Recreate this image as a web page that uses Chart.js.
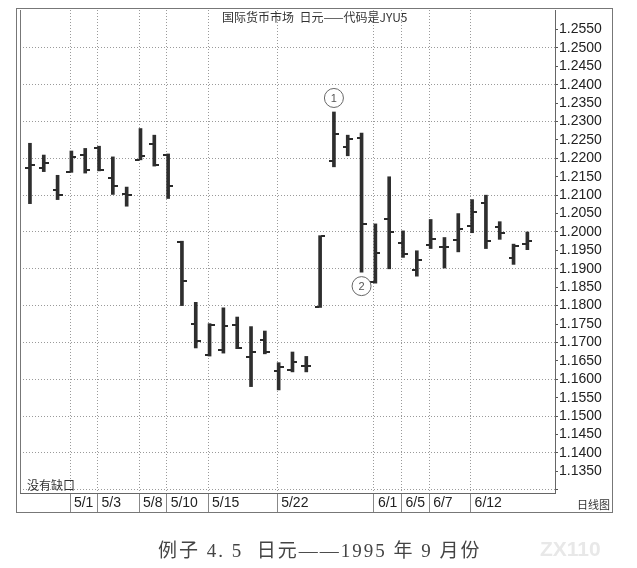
<!DOCTYPE html>
<html>
<head>
<meta charset="utf-8">
<script src="https://cdn.jsdelivr.net/npm/chart.js@4.4.1/dist/chart.umd.min.js"></script>
<style>
  html, body { margin: 0; padding: 0; background: #fff; }
  #wrap { position: relative; width: 637px; height: 568px; }
  #caption { position: absolute; left: 158px; top: 535px; font-family: "Liberation Serif", "Noto Sans CJK SC", serif; font-size: 19px; letter-spacing: 2px; color: #444; white-space: pre; }
  #mark { position: absolute; left: 540px; top: 537px; font-family: "Liberation Sans", sans-serif; font-size: 21px; color: #e8e8e8; font-weight: bold; }
</style>
</head>
<body>
<div id="wrap">
  <canvas id="JYU5_Chart"></canvas>
  <div id="caption">例子 4. 5  日元——1995 年 9 月份</div>
  <div id="mark">ZX110</div>
</div>
<script>
// daily bars, 4/26 .. 6/16 (index = trading day)
const openVals  = [1.2174, 1.2174, 1.2115, 1.2164, 1.2209, 1.2228, 1.2146, 1.2102, 1.2196, 1.2239,
                   1.2209, 1.1973, 1.1749, 1.1665, 1.1680, 1.1747, 1.1660, 1.1707, 1.1623, 1.1624,
                   1.1635, 1.1797, 1.2193, 1.2232, 1.2255, 1.1863, 1.2036, 1.1969, 1.1898, 1.1964,
                   1.1960, 1.1977, 1.2015, 1.2079, 1.2014, 1.1928, 1.1967];
const highVals  = [1.2241, 1.2209, 1.2154, 1.2220, 1.2227, 1.2233, 1.2204, 1.2122, 1.2281, 1.2263,
                   1.2212, 1.1975, 1.1809, 1.1751, 1.1794, 1.1769, 1.1743, 1.1731, 1.1645, 1.1674,
                   1.1662, 1.1990, 1.2326, 1.2263, 1.2269, 1.2022, 1.2150, 1.2003, 1.1949, 1.2034,
                   1.1985, 1.2050, 1.2088, 1.2100, 1.2028, 1.1967, 1.2000];
const lowVals   = [1.2077, 1.2164, 1.2088, 1.2162, 1.2160, 1.2166, 1.2102, 1.2070, 1.2196, 1.2179,
                   1.2091, 1.1800, 1.1685, 1.1663, 1.1671, 1.1683, 1.1580, 1.1669, 1.1571, 1.1620,
                   1.1620, 1.1795, 1.2177, 1.2207, 1.1891, 1.1861, 1.1900, 1.1931, 1.1880, 1.1955,
                   1.1902, 1.1946, 1.1998, 1.1955, 1.1980, 1.1912, 1.1952];
const closeVals = [1.2183, 1.2188, 1.2100, 1.2203, 1.2168, 1.2168, 1.2126, 1.2100, 1.2207, 1.2183,
                   1.2125, 1.1868, 1.1703, 1.1746, 1.1745, 1.1686, 1.1673, 1.1673, 1.1633, 1.1647,
                   1.1635, 1.1988, 1.2265, 1.2252, 1.2022, 1.1944, 1.2000, 1.1941, 1.1924, 1.1980,
                   1.1958, 1.2009, 1.2054, 1.1975, 1.1998, 1.1962, 1.1975];

// date labels under the chart and the bar index they sit on
const dateLabels = ['5/1', '5/3', '5/8', '5/10', '5/15', '5/22', '6/1', '6/5', '6/7', '6/12'];
const dateIndex  = [3, 5, 8, 10, 13, 18, 25, 27, 29, 32];

// price ticks (in 1/10000)
const priceTicks = [];
for (let p = 11300; p <= 12550; p += 50) priceTicks.push(p);

const titleText = '国际货币市场  日元——代码是JYU5';
const noteText = '没有缺口';
const periodText = '日线图';
const markers = [{ idx: 22, label: '1', above: true }, { idx: 24, label: '2', above: false }];

function tickImage(side) {
    const c = document.createElement('canvas');
    c.width = 10; c.height = 2;
    const g = c.getContext('2d');
    g.fillStyle = '#2a2a2a';
    if (side === 'left') g.fillRect(0, 0, 4, 2);
    else g.fillRect(6, 0, 4, 2);
    return c;
}

const framePlugin = {
    id: 'frame',
    afterDraw(chart) {
        const ctx = chart.ctx;
        const a = chart.chartArea;
        const x = chart.scales.x, y = chart.scales.y;
        ctx.save();
        ctx.strokeStyle = '#777';
        ctx.lineWidth = 1;
        ctx.strokeRect(16.5, 8.5, 596, 504);
        ctx.beginPath();
        ctx.moveTo(a.left + 0.5, a.top); ctx.lineTo(a.left + 0.5, a.bottom);
        ctx.stroke();

        ctx.fillStyle = '#333';
        ctx.font = '12px "Noto Sans CJK SC", sans-serif';
        ctx.textBaseline = 'middle';
        ctx.textAlign = 'left';
        ctx.fillText(titleText, a.left + 202, a.top + 7);
        ctx.fillText(noteText, a.left + 7, a.bottom - 8);
        ctx.font = '11px "Noto Sans CJK SC", sans-serif';
        ctx.fillText(periodText, 577, a.bottom + 12);

        // circled markers
        ctx.strokeStyle = '#666';
        markers.forEach(m => {
            const px = x.getPixelForValue(m.idx);
            const py = m.above ? y.getPixelForValue(highVals[m.idx]) - 14 : y.getPixelForValue(lowVals[m.idx]) + 14;
            ctx.beginPath();
            ctx.arc(px, py, 9.5, 0, Math.PI * 2);
            ctx.stroke();
            ctx.fillStyle = '#555';
            ctx.font = '11px "Liberation Sans", sans-serif';
            ctx.textAlign = 'center';
            ctx.fillText(m.label, px, py + 0.5);
        });
        ctx.restore();
    }
};

const idx = openVals.map((v, i) => i);

new Chart(document.getElementById('JYU5_Chart'), {
    data: {
        datasets: [
            {
                type: 'bar',
                data: idx.map(i => ({ x: i, y: [lowVals[i], highVals[i]] })),
                backgroundColor: '#2e2e2e',
                barThickness: 3,
                order: 2
            },
            {
                type: 'scatter',
                data: idx.map(i => ({ x: i, y: openVals[i] })),
                pointStyle: tickImage('left'),
                order: 1
            },
            {
                type: 'scatter',
                data: idx.map(i => ({ x: i, y: closeVals[i] })),
                pointStyle: tickImage('right'),
                order: 1
            }
        ]
    },
    options: {
        responsive: true,
        maintainAspectRatio: false,
        animation: false,
        layout: { padding: { left: 20, top: 10, right: 25, bottom: 56 } },
        plugins: { legend: { display: false }, tooltip: { enabled: false } },
        scales: {
            x: {
                type: 'linear',
                min: -0.72,
                max: 38.0,
                offset: false,
                afterBuildTicks: s => { s.ticks = dateIndex.map(v => ({ value: v - 0.1 })); },
                afterFit: s => { s.height = 19; },
                ticks: {
                    autoSkip: false,
                    maxRotation: 0,
                    align: 'start',
                    padding: -17,
                    color: '#222',
                    font: { family: '"Liberation Sans", sans-serif', size: 14 },
                    callback: v => {
                        const k = dateIndex.findIndex(d => Math.abs(d - 0.1 - v) < 0.01);
                        return k >= 0 ? ' ' + dateLabels[k] : '';
                    }
                },
                grid: {
                    offset: false,
                    color: '#9a9a9a',
                    tickLength: 19,
                    tickColor: '#888',
                    tickBorderDash: []
                },
                border: { display: true, color: '#666', dash: [1, 2] }
            },
            y: {
                position: 'right',
                min: 1.1291,
                max: 1.2603,
                afterBuildTicks: s => { s.ticks = priceTicks.map(p => ({ value: p / 10000 })); },
                afterFit: s => { s.width = 57; },
                ticks: {
                    autoSkip: false,
                    padding: 1,
                    color: '#222',
                    font: { family: '"Liberation Sans", sans-serif', size: 14 },
                    callback: v => {
                        const p = Math.round(v * 10000);
                        return p < 11350 ? '' : (p / 10000).toFixed(4);
                    }
                },
                grid: {
                    color: c => (Math.round(c.tick.value * 10000) % 100 === 0 ? '#9a9a9a' : 'rgba(0,0,0,0)'),
                    tickLength: 3,
                    tickColor: '#555',
                    tickBorderDash: []
                },
                border: { display: true, color: '#666', dash: [1, 2] }
            }
        }
    },
    plugins: [framePlugin]
});
</script>
</body>
</html>
